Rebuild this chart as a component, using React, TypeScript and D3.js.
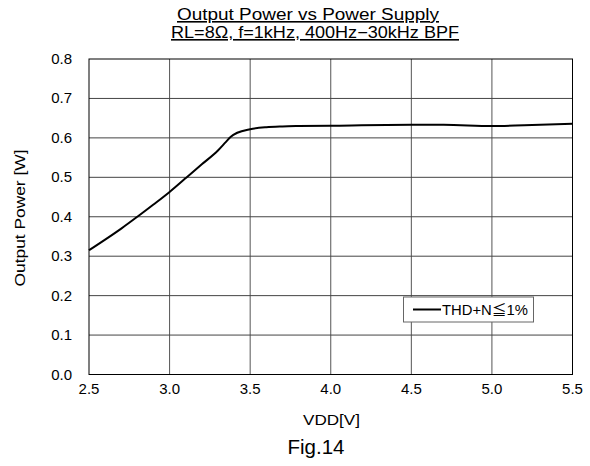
import React from "react";
import * as d3 from "d3";

const vdd = [2.5, 2.6, 2.7, 2.8, 2.9, 3.0, 3.1, 3.2, 3.3, 3.35, 3.38, 3.42, 3.5, 3.6, 3.7, 3.8, 4.0, 4.5, 4.7, 5.0, 5.2, 5.5];
const power = [0.315, 0.342, 0.37, 0.4, 0.431, 0.463, 0.498, 0.533, 0.568, 0.59, 0.603, 0.613, 0.622, 0.627, 0.629, 0.63, 0.631, 0.633, 0.633, 0.63, 0.632, 0.636];
const xTicks = [2.5, 3.0, 3.5, 4.0, 4.5, 5.0, 5.5];
const yTicks = [0, 0.1, 0.2, 0.3, 0.4, 0.5, 0.6, 0.7, 0.8];

const titleLines = ["Output Power vs Power Supply", "RL=8Ω, f=1kHz, 400Hz−30kHz BPF"];
const legendLabel = "THD+N≦1%";

export default function App() {
  const W = 590, H = 466;
  const left = 89, right = 572.5, top = 59, bottom = 374.5;
  const x = d3.scaleLinear().domain([2.5, 5.5]).range([left, right]);
  const y = d3.scaleLinear().domain([0, 0.8]).range([bottom, top]);
  const pts = vdd.map((v, i) => [v, power[i]] as [number, number]);
  const line = d3.line<[number, number]>().x(d => x(d[0])).y(d => y(d[1])).curve(d3.curveMonotoneX);
  const font = "'Liberation Sans', Arial, 'Noto Sans CJK JP', sans-serif";
  const titleX = [308, 315];
  const titleLen = [262, 288];
  const SG = "spacingAndGlyphs";
  return (
    <svg width={W} height={H} style={{ position: "absolute", left: 0, top: 0, background: "#fff" }} fontFamily={font}>
      <rect x={0} y={0} width={W} height={H} fill="#fff" />
      {/* title */}
      {titleLines.map((t, i) => (
        <text key={i} x={titleX[i]} y={20 + i * 18} textAnchor="middle" fontSize={16} textDecoration="underline" fill="#000" textLength={titleLen[i]} lengthAdjust={SG}>{t}</text>
      ))}
      {/* grid */}
      {xTicks.slice(1, -1).map(t => (
        <line key={"gx" + t} x1={x(t)} x2={x(t)} y1={top} y2={bottom} stroke="#555" strokeWidth={1} />
      ))}
      {yTicks.slice(1, -1).map(t => (
        <line key={"gy" + t} x1={left} x2={right} y1={y(t)} y2={y(t)} stroke="#444" strokeWidth={1} />
      ))}
      <rect x={left} y={top} width={right - left} height={bottom - top} fill="none" stroke="#000" strokeWidth={1} />
      {/* ticks labels */}
      {yTicks.map(t => (
        <text key={"yl" + t} x={72} y={y(t) + 5} textAnchor="end" fontSize={15} fill="#000">{t.toFixed(1)}</text>
      ))}
      {xTicks.map(t => (
        <text key={"xl" + t} x={x(t)} y={394} textAnchor="middle" fontSize={15} fill="#000">{t.toFixed(1)}</text>
      ))}
      <text x={331.5} y={425} textAnchor="middle" fontSize={15} fill="#000" textLength={57} lengthAdjust={SG}>VDD[V]</text>
      <text transform={`translate(25,218) rotate(-90)`} textAnchor="middle" fontSize={15} fill="#000" textLength={137} lengthAdjust={SG}>Output Power [W]</text>
      <text x={316} y={454} textAnchor="middle" fontSize={19.5} fill="#000" textLength={57} lengthAdjust={SG}>Fig.14</text>
      {/* curve */}
      <path d={line(pts) || ""} fill="none" stroke="#000" strokeWidth={2} />
      {/* legend */}
      <rect x={403.5} y={297} width={130} height={25} fill="#fff" stroke="#666" strokeWidth={1} />
      <line x1={413} x2={441} y1={309.5} y2={309.5} stroke="#000" strokeWidth={2} />
      <text x={442} y={314.5} fontSize={14} fill="#000" textLength={86} lengthAdjust={SG}>{legendLabel}</text>
    </svg>
  );
}
